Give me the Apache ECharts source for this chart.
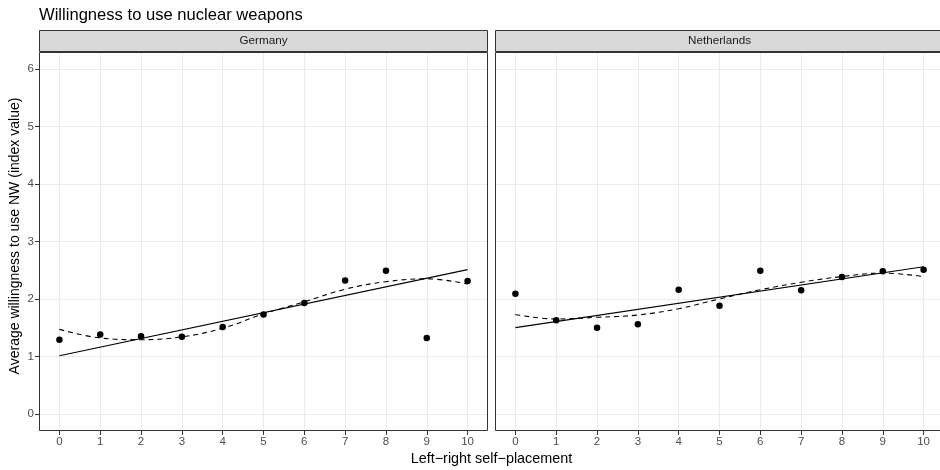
<!DOCTYPE html>
<html>
<head>
<meta charset="utf-8">
<script src="https://cdn.jsdelivr.net/npm/echarts@6/dist/echarts.min.js"></script>
<style>
html,body{margin:0;padding:0;background:#fff;}
#chart{width:940px;height:470px;}
</style>
</head>
<body>
<div id="chart"></div>
<script>
// ---- Data ----
const placement = [0, 1, 2, 3, 4, 5, 6, 7, 8, 9, 10];
const panels = ['Germany', 'Netherlands'];
const germanyMeans = [1.29, 1.38, 1.35, 1.34, 1.51, 1.73, 1.93, 2.32, 2.49, 1.32, 2.31];
const germanyLoess = [1.47, 1.32, 1.29, 1.34, 1.49, 1.74, 1.95, 2.17, 2.30, 2.35, 2.26];
const germanyFitX = [0, 10];
const germanyFitY = [1.01, 2.51];
const netherlandsMeans = [2.09, 1.63, 1.50, 1.56, 2.16, 1.88, 2.49, 2.15, 2.38, 2.48, 2.51];
const netherlandsLoess = [1.73, 1.65, 1.68, 1.72, 1.83, 2.00, 2.16, 2.29, 2.39, 2.45, 2.39];
const netherlandsFitX = [0, 10];
const netherlandsFitY = [1.50, 2.56];
const yTicks = [0, 1, 2, 3, 4, 5, 6];
const xTicks = placement;

const titleText = 'Willingness to use nuclear weapons';
const xTitle = 'Left\u2212right self\u2212placement';
const yTitle = 'Average willingness to use NW (index value)';

// ---- Layout ----
const FONT = '"Liberation Sans", Arial, Helvetica, sans-serif';
const CW = 940;
const PANEL_W = 449;                 // full panel width (second one runs past the canvas edge)
const UNIT = PANEL_W / 11;           // px per x unit (range -0.5..10.5)
const panelBoxes = [{left: 39}, {left: 495}];
panelBoxes.forEach(b => {
  b.visW = Math.min(PANEL_W, CW - b.left);
  b.right = CW - b.left - b.visW;
  b.xMax = -0.5 + b.visW / UNIT;
});
const TOP = 52, BOTTOM = 39, PANEL_H = 470 - TOP - BOTTOM;

const zip = (xs, ys) => xs.map((x, i) => [x, ys[i]]);
const means = [germanyMeans, netherlandsMeans];
const loess = [germanyLoess, netherlandsLoess];
const fitX = [germanyFitX, netherlandsFitX];
const fitY = [germanyFitY, netherlandsFitY];

const grids = panelBoxes.map(b => ({
  left: b.left, right: b.right, top: TOP, bottom: BOTTOM,
  show: false, containLabel: false
}));

const xAxes = panelBoxes.map((b, i) => ({
  type: 'value', gridIndex: i, min: -0.5, max: b.xMax, position: 'bottom',
  axisLine: {show: false, onZero: false},
  axisTick: {show: true, inside: false, length: 4, lineStyle: {color: '#333333', width: 1}, customValues: xTicks},
  axisLabel: {show: true, customValues: xTicks, color: '#4d4d4d', fontSize: 11.5, fontFamily: FONT, margin: 5},
  splitLine: {show: true, lineStyle: {color: '#ebebeb', width: 1}},
  minorSplitLine: {show: false}
}));

const yAxes = panelBoxes.map((b, i) => ({
  type: 'value', gridIndex: i, min: -0.3, max: 6.3, position: 'left',
  axisLine: {show: false, onZero: false},
  axisTick: {show: i === 0, inside: false, length: 4, lineStyle: {color: '#333333', width: 1}, customValues: yTicks},
  axisLabel: {show: i === 0, customValues: yTicks, color: '#4d4d4d', fontSize: 11.5, fontFamily: FONT, margin: 5},
  splitLine: {show: true, lineStyle: {color: '#ebebeb', width: 1}}
}));

const series = [];
panels.forEach((p, i) => {
  series.push({
    type: 'line', name: p + ' fit', xAxisIndex: i, yAxisIndex: i,
    data: zip(fitX[i], fitY[i]), showSymbol: false, symbol: 'none',
    lineStyle: {color: '#000', width: 1.1, type: 'solid'}, silent: true, z: 3
  });
  series.push({
    type: 'line', name: p + ' loess', xAxisIndex: i, yAxisIndex: i,
    data: zip(placement, loess[i]), showSymbol: false, symbol: 'none', smooth: 0.4,
    lineStyle: {color: '#000', width: 1.1, type: [5, 4]}, silent: true, z: 3
  });
  series.push({
    type: 'scatter', name: p, xAxisIndex: i, yAxisIndex: i,
    data: zip(placement, means[i]), symbol: 'circle', symbolSize: 6.5,
    itemStyle: {color: '#000000', opacity: 1}, z: 4
  });
});

const graphics = [];
panelBoxes.forEach((b, i) => {
  // panel border
  graphics.push({
    type: 'rect', x: b.left + 0.5, y: TOP + 0.5,
    shape: {x: 0, y: 0, width: PANEL_W - 1, height: PANEL_H - 1},
    style: {fill: 'none', stroke: '#333333', lineWidth: 1}, z: 10, silent: true
  });
  // strip
  graphics.push({
    type: 'rect', x: b.left + 0.5, y: 30.5,
    shape: {x: 0, y: 0, width: PANEL_W - 1, height: 21},
    style: {fill: '#d9d9d9', stroke: '#333333', lineWidth: 1}, z: 10, silent: true
  });
  graphics.push({
    type: 'text', x: b.left + PANEL_W / 2, y: 41,
    style: {text: panels[i], fill: '#1a1a1a', font: '11.7px ' + FONT, align: 'center', verticalAlign: 'middle'}, z: 11
  });
});
graphics.push({
  type: 'text', x: 491.5, y: 459,
  style: {text: xTitle, fill: '#000', font: '14.4px ' + FONT, align: 'center', verticalAlign: 'middle'}
});
graphics.push({
  type: 'text', x: 15, y: 236, rotation: Math.PI / 2,
  style: {text: yTitle, fill: '#000', font: '14px ' + FONT, align: 'center', verticalAlign: 'middle'}
});
graphics.push({
  type: 'text', x: 39, y: 15,
  style: {text: titleText, fill: '#000', font: '16.6px ' + FONT, align: 'left', verticalAlign: 'middle'}
});

const chart = echarts.init(document.getElementById('chart'), null, {renderer: 'canvas'});
chart.setOption({
  animation: false,
  backgroundColor: '#fff',
  grid: grids,
  xAxis: xAxes,
  yAxis: yAxes,
  series: series,
  graphic: graphics
});
</script>
</body>
</html>
